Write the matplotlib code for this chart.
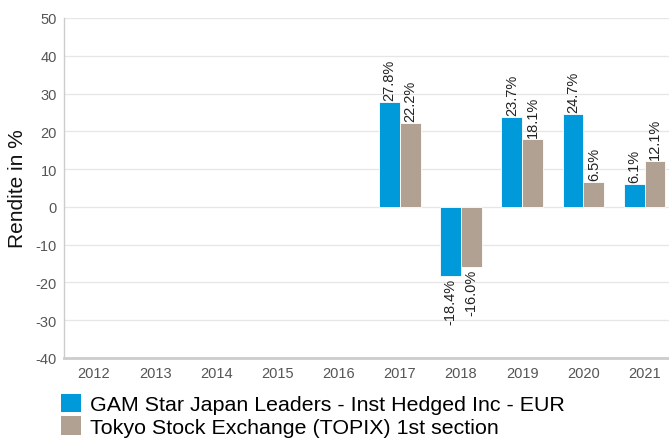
import matplotlib
matplotlib.use("Agg")
import matplotlib.pyplot as plt
from matplotlib.patches import Patch
import numpy as np

plt.rcParams["font.family"] = ["Liberation Sans", "DejaVu Sans"]
plt.rcParams["axes.unicode_minus"] = False

years = ["2012", "2013", "2014", "2015", "2016", "2017", "2018", "2019", "2020", "2021"]
fund = [None, None, None, None, None, 27.8, -18.4, 23.7, 24.7, 6.1]
index = [None, None, None, None, None, 22.2, -16.0, 18.1, 6.5, 12.1]
fund_name = "GAM Star Japan Leaders - Inst Hedged Inc - EUR"
index_name = "Tokyo Stock Exchange (TOPIX) 1st section"

BLUE = "#0099da"
BROWN = "#b1a192"

fig = plt.figure(figsize=(6.69, 4.39), dpi=100)
ax = fig.add_axes([64 / 669, 80 / 439, 1 - 64 / 669, 340 / 439])

x = np.arange(len(years))
w = 0.34
for vals, off, col in [(fund, -w / 2, BLUE), (index, w / 2, BROWN)]:
    for xi, v in zip(x, vals):
        if v is None:
            continue
        ax.bar(xi + off, v, width=w, color=col, edgecolor="white", linewidth=0.6, zorder=3)
        if v >= 0:
            ax.text(xi + off, v + 0.5, f"{v:.1f}%", rotation=90, ha="center", va="bottom",
                    fontsize=10.5, color="#222222", zorder=4)
        else:
            ax.text(xi + off, v - 0.5, f"{v:.1f}%", rotation=90, ha="center", va="top",
                    fontsize=10.5, color="#222222", zorder=4)

ax.set_xlim(-0.49, 9.4)
ax.set_ylim(-40, 50)
ax.set_yticks(range(-40, 51, 10))
ax.set_xticks(x)
ax.set_xticklabels(years)
ax.yaxis.grid(True, color="#e6e6e6", linewidth=0.9, zorder=0)
ax.tick_params(axis="both", length=0, labelsize=10.5, labelcolor="#555555")
ax.tick_params(axis="x", pad=6)
ax.tick_params(axis="y", pad=5)
for s in ["top", "right"]:
    ax.spines[s].set_visible(False)
ax.spines["left"].set_color("#cccccc")
ax.spines["left"].set_linewidth(1.0)
ax.spines["bottom"].set_color("#cccccc")
ax.spines["bottom"].set_linewidth(2.0)
ax.set_ylabel("Rendite in %", fontsize=15, color="#111111", labelpad=6)

handles = [Patch(facecolor=BLUE, edgecolor="none"), Patch(facecolor=BROWN, edgecolor="none")]
fig.legend(handles, [fund_name, index_name], loc="lower left", bbox_to_anchor=(61 / 669, 1 / 439),
           frameon=False, fontsize=15.4, handlelength=0.95, handleheight=0.95,
           handletextpad=0.4, labelspacing=0.1, borderaxespad=0, borderpad=0)

fig.savefig("out.png", dpi=100)
